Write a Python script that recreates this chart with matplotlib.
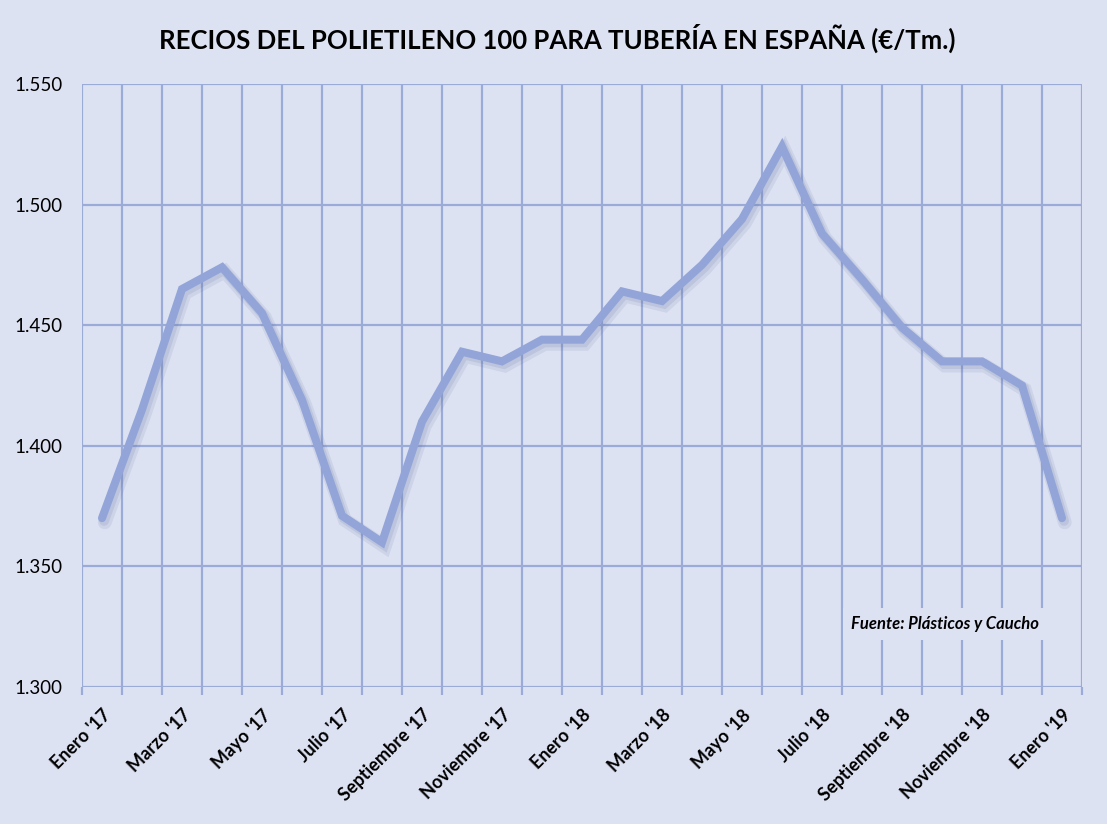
import matplotlib
matplotlib.use("Agg")
import matplotlib.pyplot as plt
import matplotlib.patheffects as pe
from matplotlib.ticker import FuncFormatter, FixedLocator

months = ["Enero '17", "Febrero '17", "Marzo '17", "Abril '17", "Mayo '17", "Junio '17",
          "Julio '17", "Agosto '17", "Septiembre '17", "Octubre '17", "Noviembre '17",
          "Diciembre '17", "Enero '18", "Febrero '18", "Marzo '18", "Abril '18", "Mayo '18",
          "Junio '18", "Julio '18", "Agosto '18", "Septiembre '18", "Octubre '18",
          "Noviembre '18", "Diciembre '18", "Enero '19"]
prices = [1370, 1415, 1465, 1474, 1455, 1419, 1371, 1360, 1410, 1439, 1435, 1444, 1444,
          1464, 1460, 1475, 1494, 1524, 1488, 1469, 1449, 1435, 1435, 1425, 1370]
y_ticks = [1300, 1350, 1400, 1450, 1500, 1550]

title = "RECIOS DEL POLIETILENO 100 PARA TUBERÍA EN ESPAÑA (€/Tm.)"
source = "Fuente: Plásticos y Caucho"

BG = "#dde2f3"
GRID = "#9aabd8"
LINE = "#93a5d8"
FONT = ["Lato", "DejaVu Sans"]

fig = plt.figure(figsize=(11.07, 8.24), dpi=100, facecolor=BG)
ax = fig.add_axes([82/1107, 1-687/824, 1000/1107, (687-84)/824])
ax.set_facecolor(BG)

n = len(months)
x = list(range(n))
ax.plot(x, prices, color=LINE, lw=5.8, solid_joinstyle="miter", solid_capstyle="round", zorder=5,
        path_effects=[pe.SimpleLineShadow(offset=(2.0, -3.0), shadow_color="#6070a0", alpha=0.12, linewidth=10),
                      pe.SimpleLineShadow(offset=(1.5, -2.0), shadow_color="#6070a0", alpha=0.15, linewidth=7),
                      pe.Normal()])

ax.set_xlim(-0.5, n - 0.5)
ax.set_ylim(y_ticks[0], y_ticks[-1])

for b in range(n + 1):
    ax.axvline(b - 0.5, color=GRID, lw=1.6, zorder=1)
for yv in y_ticks:
    ax.axhline(yv, color=GRID, lw=1.6, zorder=1)

for s in ax.spines.values():
    s.set_visible(False)

ax.yaxis.set_major_locator(FixedLocator(y_ticks))
ax.yaxis.set_major_formatter(FuncFormatter(lambda v, p: f"{int(v):,}".replace(",", ".")))
ax.tick_params(axis="y", length=0, pad=14, labelsize=13.5)
for lab in ax.get_yticklabels():
    lab.set_family(FONT)

ax.xaxis.set_major_locator(FixedLocator(x[::2]))
ax.set_xticklabels(months[::2], rotation=45, ha="right", rotation_mode="anchor",
                   fontsize=13, fontweight="bold", family=FONT)
ax.tick_params(axis="x", which="major", length=0, pad=14)
ax.xaxis.set_minor_locator(FixedLocator([b - 0.5 for b in range(n + 1)]))
ax.tick_params(axis="x", which="minor", length=6, width=1.6, color=GRID, direction="out")

fig.text(0.503, 1-38/824, title, ha="center", va="center", fontsize=18.5,
         fontweight="bold", family=FONT)

ax.text(945, 824-624, source, transform=None, ha="center", va="center", fontsize=12,
        fontweight="bold", fontstyle="italic", family=FONT, zorder=6,
        bbox=dict(boxstyle="square,pad=0.5", facecolor=BG, edgecolor="none"))

fig.savefig("out.png", dpi=100, facecolor=BG)
